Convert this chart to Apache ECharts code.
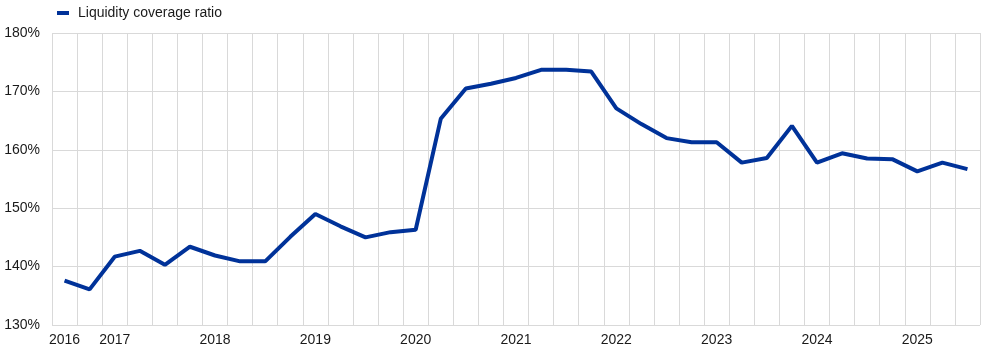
<!DOCTYPE html>
<html>
<head>
<meta charset="utf-8">
<script src="https://cdn.jsdelivr.net/npm/echarts@6/dist/echarts.min.js"></script>
<style>html,body{margin:0;padding:0;background:#fff}#c{width:1006px;height:356px}</style>
</head>
<body>
<div id="c"></div>
<script>
// Quarterly, 2016 Q3 .. 2025 Q3
const categories = [
  "2016 Q3","2016 Q4",
  "2017 Q1","2017 Q2","2017 Q3","2017 Q4",
  "2018 Q1","2018 Q2","2018 Q3","2018 Q4",
  "2019 Q1","2019 Q2","2019 Q3","2019 Q4",
  "2020 Q1","2020 Q2","2020 Q3","2020 Q4",
  "2021 Q1","2021 Q2","2021 Q3","2021 Q4",
  "2022 Q1","2022 Q2","2022 Q3","2022 Q4",
  "2023 Q1","2023 Q2","2023 Q3","2023 Q4",
  "2024 Q1","2024 Q2","2024 Q3","2024 Q4",
  "2025 Q1","2025 Q2","2025 Q3"
];
const lcrValues = [
  137.6, 136.1,
  141.7, 142.7, 140.3, 143.4,
  141.9, 140.9, 140.9, 145.1,
  149.0, 146.9, 145.0, 145.9,
  146.3, 165.3, 170.5, 171.3,
  172.3, 173.7, 173.7, 173.4,
  167.1, 164.4, 162.0, 161.3,
  161.3, 157.8, 158.6, 164.1,
  157.8, 159.4, 158.5, 158.4,
  156.3, 157.8, 156.7
];
const seriesName = "Liquidity coverage ratio";
const yTicks = { min: 130, max: 180, interval: 10 };

const chart = echarts.init(document.getElementById('c'), null, {renderer: 'canvas'});
const font = "'Liberation Sans', Arial, sans-serif";
chart.setOption({
  animation: false,
  textStyle: { fontFamily: font },
  legend: {
    left: 52, top: 1,
    icon: 'rect', itemWidth: 12, itemHeight: 4,
    textStyle: { fontSize: 14, color: '#1a1a1a', fontFamily: font, padding: [0,0,0,4] },
    data: [seriesName]
  },
  grid: { left: 52, right: 26, top: 33, bottom: 31, containLabel: false },
  xAxis: {
    type: 'category',
    data: categories,
    boundaryGap: true,
    axisLine: { show: false },
    axisTick: { show: false },
    splitLine: { show: true, interval: 0, lineStyle: { color: '#d9d9d9', width: 1 } },
    axisLabel: {
      interval: 0, margin: 8, fontSize: 14, color: '#1a1a1a', fontFamily: font,
      formatter: (v, i) => (i === 0 || v.endsWith('Q1')) ? v.slice(0, 4) : ''
    }
  },
  yAxis: {
    type: 'value',
    min: yTicks.min, max: yTicks.max, interval: yTicks.interval,
    axisLine: { show: false },
    axisTick: { show: false },
    splitLine: { show: true, lineStyle: { color: '#d9d9d9', width: 1 } },
    axisLabel: { margin: 12, fontSize: 14, color: '#1a1a1a', fontFamily: font, formatter: v => v + '%' }
  },
  series: [{
    name: seriesName,
    type: 'line',
    data: lcrValues,
    symbol: 'none',
    lineStyle: { color: '#003299', width: 4 },
    itemStyle: { color: '#003299' }
  }]
});
</script>
</body>
</html>
